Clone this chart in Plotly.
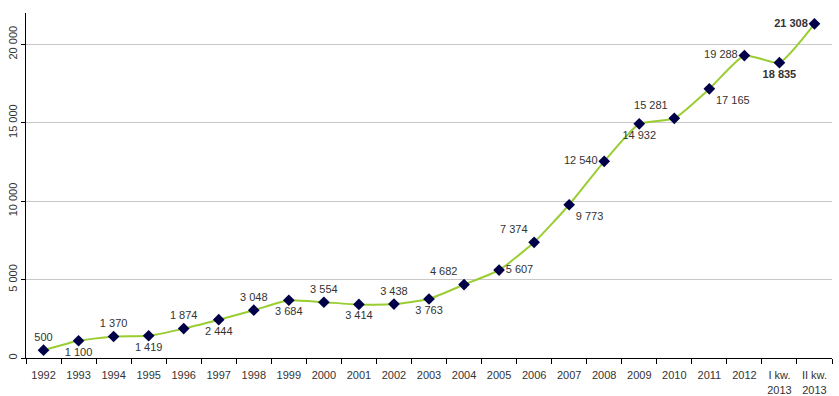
import plotly.graph_objects as go

categories = ["1992", "1993", "1994", "1995", "1996", "1997", "1998", "1999", "2000",
              "2001", "2002", "2003", "2004", "2005", "2006", "2007", "2008", "2009",
              "2010", "2011", "2012", "I kw.<br>2013", "II kw.<br>2013"]
values = [500, 1100, 1370, 1419, 1874, 2444, 3048, 3684, 3554, 3414, 3438, 3763,
          4682, 5607, 7374, 9773, 12540, 14932, 15281, 17165, 19288, 18835, 21308]
label_pos = ["top center", "bottom center", "top center", "bottom center", "top center",
             "bottom center", "top center", "bottom center", "top center", "bottom center",
             "top center", "bottom center", "top left", "middle right", "top left",
             "bottom right", "middle left", "bottom center", "top left", "bottom right",
             "middle left", "bottom center", "middle left"]
bold_points = [21, 22]
y_ticks = [0, 5000, 10000, 15000, 20000]


def fmt(v):
    return f"{v:,}".replace(",", " ")


labels = []
for i, v in enumerate(values):
    t = fmt(v)
    if i in bold_points:
        t = f"<b>{t}</b>"
    labels.append(t)

fig = go.Figure()
fig.add_trace(go.Scatter(
    x=categories, y=values, mode="lines+markers+text",
    line=dict(color="#9ACD32", width=2, shape="spline", smoothing=0.5),
    marker=dict(symbol="diamond", size=9, color="#000048"),
    text=labels, textposition=label_pos,
    textfont=dict(family="Liberation Sans, Arial, sans-serif", size=11, color="#333333"),
    cliponaxis=False, hoverinfo="skip",
))

fig.update_layout(
    width=839, height=396,
    margin=dict(l=26, r=7, t=13, b=38),
    paper_bgcolor="white", plot_bgcolor="white",
    showlegend=False,
    font=dict(family="Liberation Sans, Arial, sans-serif", size=11, color="#333333"),
)
fig.update_xaxes(
    type="category", range=[-0.5, len(categories) - 0.5],
    showline=True, linecolor="#000000", linewidth=1,
    ticks="outside", tickson="boundaries", ticklen=5, tickcolor="#000000",
    showgrid=False, tickfont=dict(size=11, color="#333333"), tickangle=0,
    ticklabelstandoff=7, automargin=False,
)
fig.update_yaxes(
    range=[0, 22000], showline=True, linecolor="#000000", linewidth=1,
    ticks="outside", ticklen=4, tickcolor="#000000",
    tickvals=y_ticks, ticktext=[fmt(v) for v in y_ticks], tickangle=-90,
    showgrid=True, gridcolor="#C8C8C8", gridwidth=1, zeroline=False,
    tickfont=dict(size=11, color="#333333"), automargin=False,
)

fig.write_html(
    "out.html",
    config={"displayModeBar": False, "staticPlot": True},
    post_script="document.body.style.margin='0';document.body.style.overflow='hidden';",
)
